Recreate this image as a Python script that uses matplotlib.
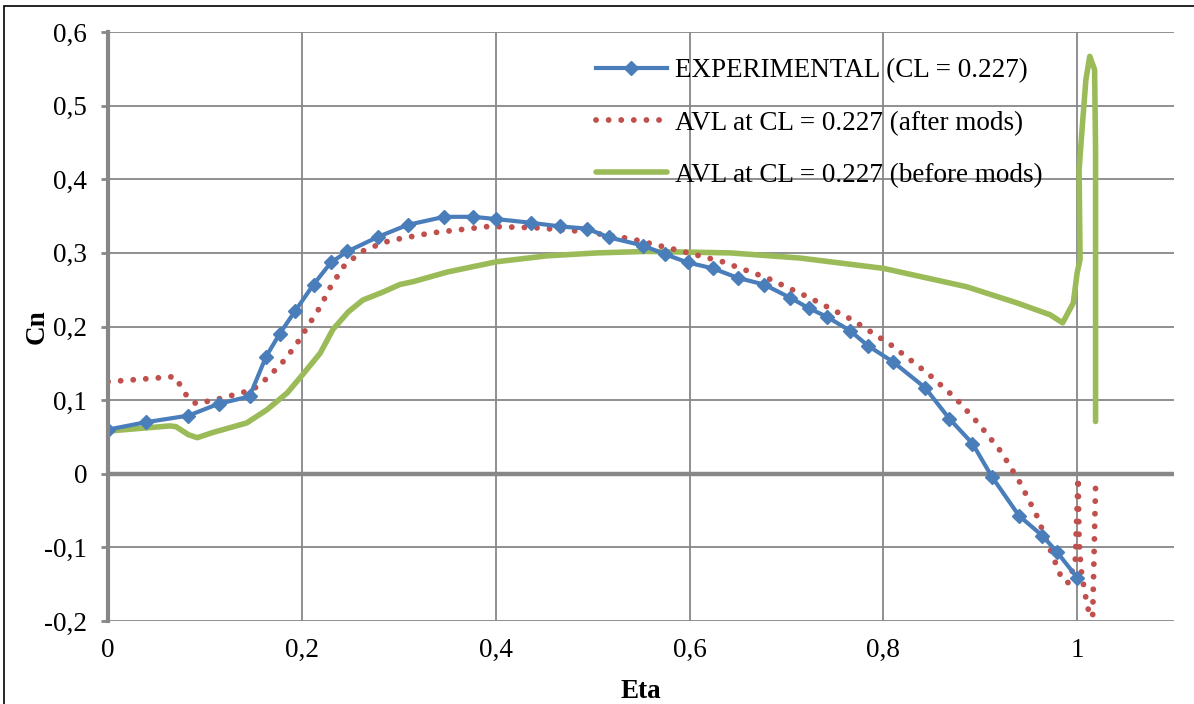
import matplotlib
matplotlib.use("Agg")
import matplotlib.pyplot as plt
from matplotlib.patches import Rectangle

# values
exp_eta = [0.0, 0.039, 0.083, 0.114, 0.146, 0.163, 0.177, 0.193, 0.212, 0.230,
           0.247, 0.279, 0.309, 0.347, 0.377, 0.400, 0.436, 0.466, 0.494, 0.517,
           0.552, 0.575, 0.598, 0.624, 0.650, 0.677, 0.704, 0.723, 0.742, 0.766,
           0.784, 0.810, 0.843, 0.868, 0.892, 0.912, 0.940, 0.964, 0.979, 1.0]
exp_cn = [0.060, 0.070, 0.079, 0.095, 0.105, 0.159, 0.190, 0.221, 0.257, 0.287,
          0.302, 0.322, 0.338, 0.349, 0.349, 0.346, 0.341, 0.336, 0.333, 0.321,
          0.310, 0.298, 0.287, 0.279, 0.266, 0.257, 0.239, 0.225, 0.213, 0.194,
          0.174, 0.152, 0.117, 0.075, 0.041, -0.004, -0.057, -0.084, -0.106, -0.141]

after_eta = [0.0, 0.069, 0.082, 0.091, 0.115, 0.138, 0.150, 0.160, 0.178, 0.193,
             0.206, 0.219, 0.230, 0.244, 0.262, 0.284, 0.296, 0.333, 0.393, 0.443,
             0.491, 0.540, 0.587, 0.634, 0.680, 0.724, 0.768, 0.809, 0.847, 0.875,
             0.899, 0.922, 0.941, 0.958, 0.971, 0.980, 0.985, 0.991, 0.998, 1.001,
             1.002, 1.004, 1.008, 1.013, 1.016, 1.019]
after_cn = [0.125, 0.132, 0.104, 0.095, 0.102, 0.110, 0.115, 0.125, 0.148, 0.173,
            0.200, 0.227, 0.255, 0.283, 0.302, 0.314, 0.318, 0.327, 0.336, 0.334,
            0.329, 0.319, 0.304, 0.288, 0.266, 0.239, 0.209, 0.174, 0.135, 0.102,
            0.067, 0.029, -0.012, -0.056, -0.099, -0.129, -0.145, -0.148, -0.120, -0.005,
            -0.090, -0.130, -0.162, -0.194, -0.194, -0.018]

before_eta = [0.0, 0.064, 0.070, 0.083, 0.092, 0.108, 0.143, 0.164, 0.185, 0.201,
              0.219, 0.232, 0.248, 0.263, 0.284, 0.301, 0.315, 0.350, 0.401, 0.453,
              0.505, 0.556, 0.642, 0.714, 0.800, 0.886, 0.938, 0.972, 0.985, 0.996,
              1.000, 1.003, 1.002, 1.005, 1.009, 1.013, 1.018, 1.019, 1.019]
before_cn = [0.058, 0.065, 0.064, 0.053, 0.049, 0.056, 0.069, 0.087, 0.110, 0.135,
             0.164, 0.196, 0.220, 0.236, 0.247, 0.257, 0.261, 0.274, 0.288, 0.296,
             0.300, 0.302, 0.300, 0.293, 0.279, 0.254, 0.232, 0.216, 0.205, 0.232,
             0.273, 0.291, 0.413, 0.467, 0.535, 0.567, 0.549, 0.440, 0.071]

x_ticks = [0, 0.2, 0.4, 0.6, 0.8, 1.0]
x_labels = ["0", "0,2", "0,4", "0,6", "0,8", "1"]
y_ticks = [-0.2, -0.1, 0, 0.1, 0.2, 0.3, 0.4, 0.5, 0.6]
y_labels = ["-0,2", "-0,1", "0", "0,1", "0,2", "0,3", "0,4", "0,5", "0,6"]

plt.rcParams["font.family"] = ["Liberation Serif", "DejaVu Serif"]
plt.rcParams["font.size"] = 19.5

fig = plt.figure(figsize=(11.94, 7.04), dpi=100)
ax = fig.add_axes([0.0905, 0.1179, 0.8928, 0.8366])

grid_col = "#878787"
l_before, = ax.plot(before_eta, before_cn, color="#9BBB59", lw=4,
                    solid_joinstyle="round", solid_capstyle="round",
                    label="AVL at CL = 0.227 (before mods)")
l_after, = ax.plot(after_eta, after_cn, color="#C0504D", lw=4.2,
                   linestyle=(0, (0.01, 2.15)), dash_capstyle="round",
                   label="AVL at CL = 0.227 (after mods)")
l_exp, = ax.plot(exp_eta, exp_cn, color="#4A7EBB", lw=3, marker="D", ms=7.5,
                 solid_joinstyle="round", label="EXPERIMENTAL (CL = 0.227)")

ax.set_xlim(0, 1.1)
ax.set_ylim(-0.2, 0.6)
ax.set_xticks(x_ticks)
ax.set_xticklabels(x_labels)
ax.set_yticks(y_ticks)
ax.set_yticklabels(y_labels)
ax.grid(True, color=grid_col, lw=1.3)
ax.set_axisbelow(True)
ax.axhline(0, color=grid_col, lw=3.2, zorder=1.5)

for side in ["top", "right", "bottom"]:
    ax.spines[side].set_visible(False)
ax.spines["left"].set_color(grid_col)
ax.spines["left"].set_linewidth(3)
ax.tick_params(axis="y", length=5, width=2, color=grid_col, pad=10)
ax.tick_params(axis="x", length=0, pad=12)

ax.set_xlabel("Eta", fontweight="bold")
ax.set_ylabel("Cn", fontweight="bold")
ax.xaxis.set_label_coords(0.5, -0.098)
ax.yaxis.set_label_coords(-0.055, 0.5)

ax.legend(handles=[l_exp, l_after, l_before], loc="upper left",
          bbox_to_anchor=(0.458, 0.955), frameon=False, borderpad=0,
          borderaxespad=0, handlelength=2.6, handletextpad=0.3,
          labelspacing=1.0, numpoints=1, fontsize=19.5)

fig.patches.append(Rectangle((0.0035, -0.05), 1.1, 0.9915 + 0.05,
                             transform=fig.transFigure, fill=False,
                             edgecolor="black", lw=1.2))

fig.savefig("out.png", dpi=100)
